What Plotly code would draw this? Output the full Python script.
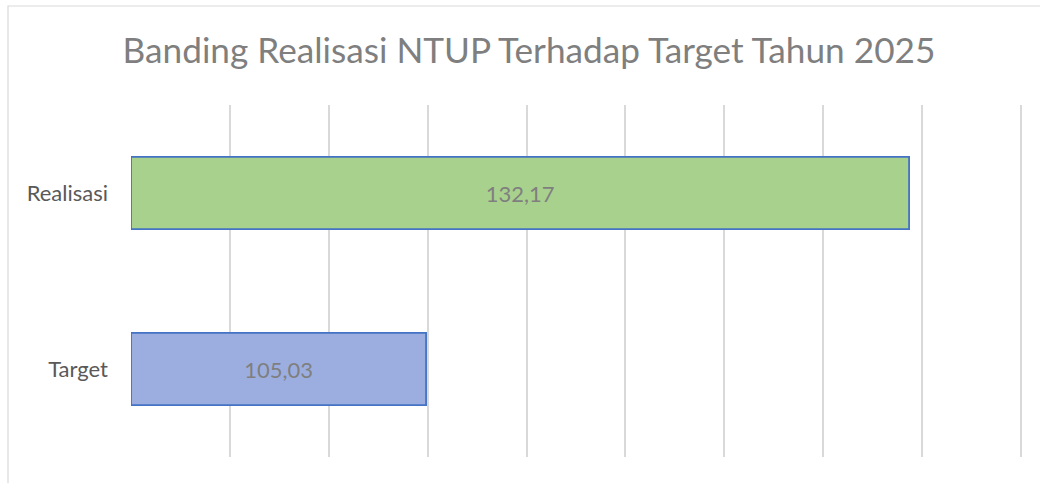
import plotly.graph_objects as go

categories = ["Target", "Realisasi"]
values = [105.03, 132.17]
bar_colors = ["#9CAEDF", "#A9D18E"]
title_text = "Banding Realisasi NTUP Terhadap Target Tahun 2025"

W, H = 1040, 483
L, R, T, B = 131, 16, 105, 26

x_min = 88.45
px_per_unit = 17.797
dtick = 5.5565
x_max = x_min + (W - L - R) / px_per_unit

FONT = "Lato, Open Sans, sans-serif"

fig = go.Figure()
fig.add_trace(go.Bar(
    y=categories, x=[v - x_min for v in values], orientation="h",
    base=x_min,
    customdata=values,
    marker=dict(color=bar_colors, line=dict(color="#4472C4", width=1.8)),
    texttemplate="%{customdata:.2f}", textposition="inside", insidetextanchor="middle",
    textfont=dict(family=FONT, size=22, color="#7F7F7F"),
    hoverinfo="skip",
))

fig.update_layout(
    width=W, height=H,
    margin=dict(l=L, r=R, t=T, b=B),
    paper_bgcolor="white", plot_bgcolor="white",
    separators=",.",
    bargap=0.59,
    showlegend=False,
    title=dict(text=title_text, x=529 / W, xanchor="center", xref="container",
               y=1 - 51 / H, yanchor="middle", yref="container",
               font=dict(family=FONT, size=35.2, color="#7F7F7F")),
    xaxis=dict(range=[x_min, x_max], tick0=x_min, dtick=dtick, showgrid=True,
               gridcolor="#D9D9D9", gridwidth=1.5, showticklabels=False,
               zeroline=False, showline=False, ticks=""),
    yaxis=dict(showgrid=False, zeroline=False, showline=False, ticks="",
               ticklabelstandoff=22,
               tickfont=dict(family=FONT, size=22, color="#595959")),
)

pw, ph = W - L - R, H - T - B
fig.add_shape(type="rect", xref="paper", yref="paper",
              x0=(8 - L) / pw, x1=(W + 5 - L) / pw,
              y0=(H - B - (H + 5)) / ph, y1=(H - B - 6) / ph,
              line=dict(color="#D9D9D9", width=1.2), fillcolor="rgba(0,0,0,0)", layer="below")

fig.write_html("out.html", config={"displayModeBar": False},
               post_script="document.body.style.margin='0';document.body.style.overflow='hidden';")
